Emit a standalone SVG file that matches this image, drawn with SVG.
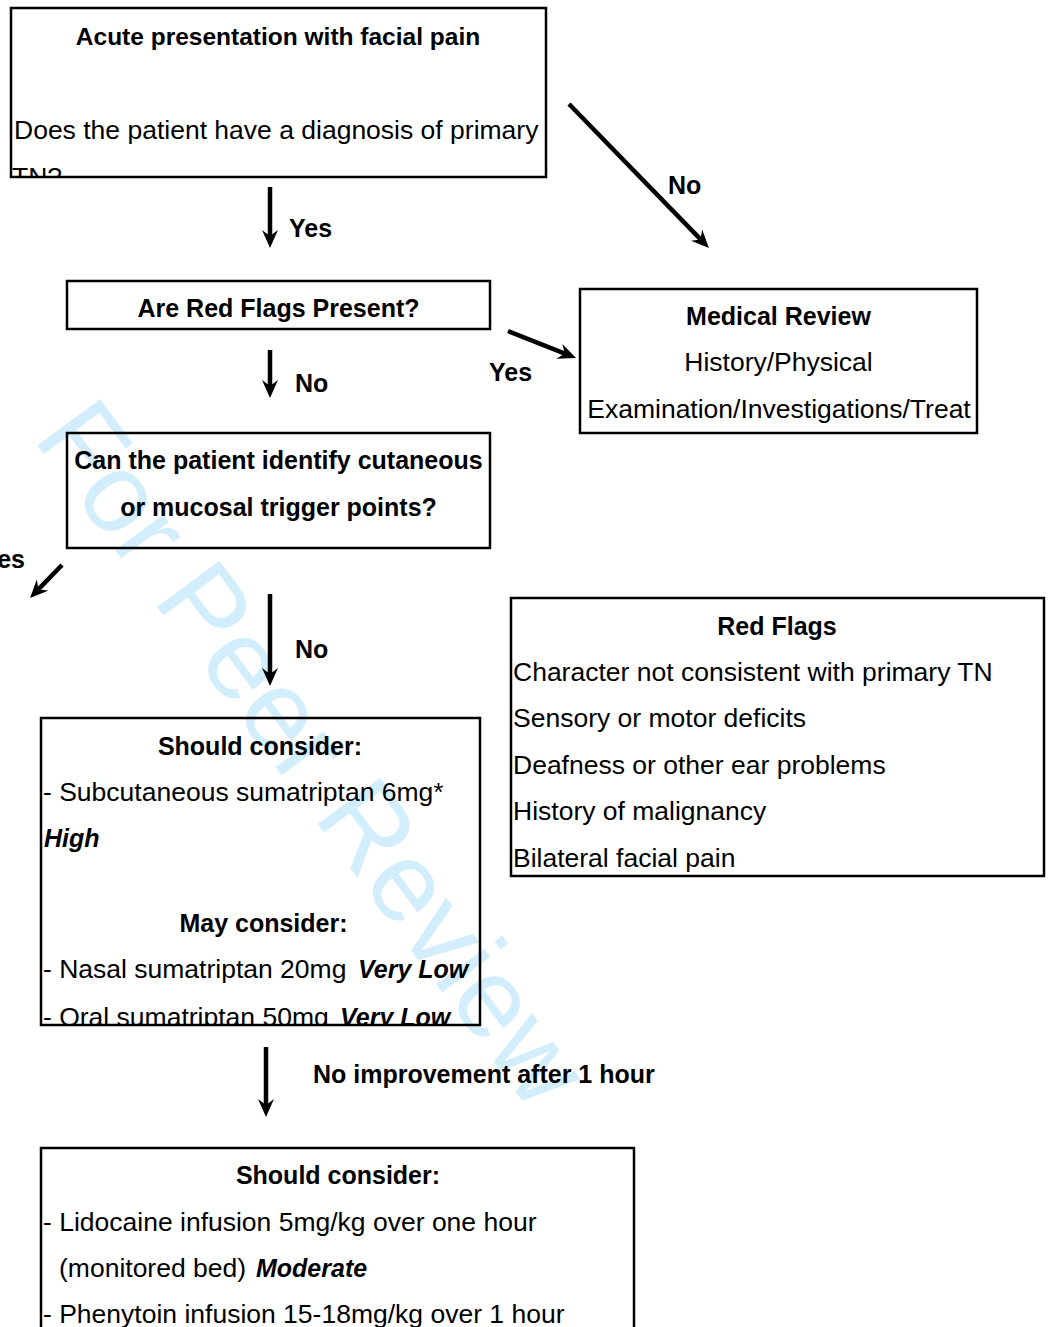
<svg xmlns="http://www.w3.org/2000/svg" width="1050" height="1327" viewBox="0 0 1050 1327">
<style>
.box{fill:none;stroke:#000;stroke-width:2.5}
.b{font-family:"Liberation Sans",Arial,sans-serif;font-weight:bold;font-size:25px;fill:#000}
.r{font-family:"Liberation Sans",Arial,sans-serif;font-size:26.5px;fill:#000}
.bi{font-weight:bold;font-style:italic}
.c{text-anchor:middle}
.wm{font-family:"Liberation Sans",Arial,sans-serif;font-size:113px;fill:#d2eefc}
.ln{stroke:#000;stroke-width:4.5;fill:none}
</style>
<defs>
<marker id="ah" viewBox="0 0 18 16" refX="6" refY="8" markerWidth="18" markerHeight="16" markerUnits="userSpaceOnUse" orient="auto">
<path d="M0,0 L18,8 L0,16 L6,8 z" fill="#000"/>
</marker>
<clipPath id="clip1"><rect x="11" y="8" width="535" height="168"/></clipPath>
<clipPath id="clip5"><rect x="41" y="718" width="439" height="306"/></clipPath>
</defs>
<rect width="1050" height="1327" fill="#fff"/>
<text class="wm" transform="translate(32,438) rotate(53.5)">For Peer Review</text>

<g id="connectors">
<line class="ln" x1="270" y1="187" x2="270" y2="236" marker-end="url(#ah)"/>
<line class="ln" x1="569" y1="104" x2="700.6" y2="239.4" marker-end="url(#ah)"/>
<line class="ln" x1="270" y1="350" x2="270" y2="386" marker-end="url(#ah)"/>
<line class="ln" x1="508" y1="331" x2="564.9" y2="353.6" marker-end="url(#ah)"/>
<line class="ln" x1="62" y1="565" x2="38.4" y2="589.4" marker-end="url(#ah)"/>
<line class="ln" x1="270" y1="594" x2="270" y2="674" marker-end="url(#ah)"/>
<line class="ln" x1="266" y1="1047" x2="266" y2="1105" marker-end="url(#ah)"/>
<text class="b" x="289" y="237">Yes</text>
<text class="b" x="668" y="194">No</text>
<text class="b" x="295" y="392">No</text>
<text class="b" x="489" y="381">Yes</text>
<text class="b" x="25" y="568" text-anchor="end">Yes</text>
<text class="b" x="295" y="658">No</text>
<text class="b" x="313" y="1083">No improvement after 1 hour</text>
</g>

<g id="node-acute">
<rect class="box" x="11" y="8" width="535" height="169"/>
<text class="b c" x="278" y="45" style="font-size:24.5px">Acute presentation with facial pain</text>
<g clip-path="url(#clip1)">
<text class="r" x="14" y="139">Does the patient have a diagnosis of primary</text>
<text class="r" x="12" y="185.5">TN?</text>
</g>
</g>

<g id="node-redflags-q">
<rect class="box" x="67" y="281" width="423" height="48"/>
<text class="b c" x="278.5" y="317">Are Red Flags Present?</text>
</g>

<g id="node-medical">
<rect class="box" x="580" y="289" width="397" height="144"/>
<text class="b c" x="778.5" y="325">Medical Review</text>
<text class="r c" x="778.5" y="371">History/Physical</text>
<text class="r c" x="779" y="418">Examination/Investigations/Treat</text>
</g>

<g id="node-trigger">
<rect class="box" x="67" y="433" width="423" height="115"/>
<text class="b c" x="278.5" y="469">Can the patient identify cutaneous</text>
<text class="b c" x="278.5" y="516">or mucosal trigger points?</text>
</g>

<g id="node-redflags-list">
<rect class="box" x="511" y="598" width="533" height="278"/>
<text class="b c" x="777" y="635">Red Flags</text>
<text class="r" x="513" y="681">Character not consistent with primary TN</text>
<text class="r" x="513" y="727">Sensory or motor deficits</text>
<text class="r" x="513" y="774">Deafness or other ear problems</text>
<text class="r" x="513" y="820">History of malignancy</text>
<text class="r" x="513" y="867">Bilateral facial pain</text>
</g>

<g id="node-sumatriptan">
<rect class="box" x="41" y="718" width="439" height="307"/>
<text class="b c" x="260" y="755">Should consider:</text>
<text class="r" x="43" y="801">- Subcutaneous sumatriptan 6mg*</text>
<text class="r bi" x="44" y="847" style="font-size:25px">High</text>
<text class="b c" x="263.5" y="932">May consider:</text>
<text class="r" x="43" y="978">- Nasal sumatriptan 20mg <tspan class="bi" x="358" style="font-size:25px">Very Low</tspan></text>
<g clip-path="url(#clip5)">
<text class="r" x="43" y="1026">- Oral sumatriptan 50mg <tspan class="bi" x="340" style="font-size:25px">Very Low</tspan></text>
</g>
</g>

<g id="node-lidocaine">
<rect class="box" x="41" y="1148" width="593" height="300"/>
<text class="b c" x="338" y="1184">Should consider:</text>
<text class="r" x="43" y="1231">- Lidocaine infusion 5mg/kg over one hour</text>
<text class="r" x="59" y="1277">(monitored bed) <tspan class="bi" x="256" style="font-size:25px">Moderate</tspan></text>
<text class="r" x="43" y="1323">- Phenytoin infusion 15-18mg/kg over 1 hour</text>
</g>
</svg>
